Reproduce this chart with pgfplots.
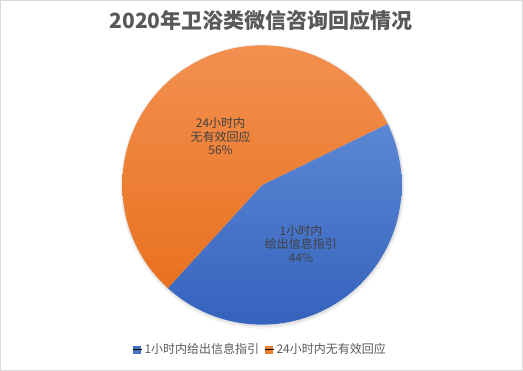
\documentclass[border=0pt]{standalone}
\usepackage{pgfplots}
\pgfplotsset{compat=1.18}
\usepackage{fontspec}
\setmainfont{Noto Sans CJK SC}
\definecolor{bluetop}{HTML}{5B87D4}
\definecolor{bluebot}{HTML}{3563BD}
\definecolor{orangetop}{HTML}{F39050}
\definecolor{orangebot}{HTML}{E8711F}
\definecolor{bluemain}{HTML}{4472C4}
\definecolor{orangemain}{HTML}{ED7D31}
\definecolor{bordergray}{HTML}{D9D9D9}
\definecolor{titlegray}{HTML}{595959}
\definecolor{labelgray}{HTML}{404040}
\begin{document}
\begin{tikzpicture}
\def\valA{44}
\def\valB{56}
\pgfmathsetmacro{\startang}{26}
\pgfmathsetmacro{\midang}{\startang-\valA*3.6}
\pgfmathsetmacro{\endang}{\startang+\valB*3.6}
\begin{axis}[
  scale only axis, width=522pt, height=370pt,
  xmin=0, xmax=523, ymin=0, ymax=371,
  ticks=none, clip=false,
  axis line style={draw=bordergray, line width=1pt},
  legend columns=2,
  legend style={at={(axis cs:260.5,21)}, anchor=center, draw=none, fill=none,
    font=\fontsize{12}{14}\selectfont, text=titlegray,
    /tikz/every even column/.append style={column sep=4pt},
    inner sep=0pt, cells={anchor=west}},
]
% shadow
\addplot[fill=black, fill opacity=0.05, draw=none, domain=0:360, samples=150, forget plot]
  ({262.5+142.5*cos(x)},{184.5+142.5*sin(x)});
\addplot[fill=black, fill opacity=0.07, draw=none, domain=0:360, samples=150, forget plot]
  ({262.5+141*cos(x)},{185+141*sin(x)});
% slices
\addplot[draw=none, top color=bluetop, bottom color=bluebot, domain=\midang:\startang, samples=120, forget plot]
  ({262+140*cos(x)},{186+140*sin(x)}) -- (262,186) -- cycle;
\addplot[draw=none, top color=orangetop, bottom color=orangebot, domain=\startang:\endang, samples=140, forget plot]
  ({262+140*cos(x)},{186+140*sin(x)}) -- (262,186) -- cycle;
% legend
\addlegendimage{legend image code/.code={\fill[bluemain] (0pt,-3.5pt) rectangle (7pt,3.5pt); \path (0pt,0pt) -- (9pt,0pt);}}
\addlegendentry{1小时内给出信息指引}
\addlegendimage{legend image code/.code={\fill[orangemain] (0pt,-3.5pt) rectangle (7pt,3.5pt); \path (0pt,0pt) -- (9pt,0pt);}}
\addlegendentry{24小时内无有效回应}
% labels
\node[font=\fontsize{21}{24}\selectfont\bfseries, text=titlegray] at (axis cs:261,351) {2020年卫浴类微信咨询回应情况};
\node[font=\fontsize{12}{13.5}\selectfont, text=labelgray, align=center] at (axis cs:220.5,235) {24小时内\\无有效回应\\\valB\%};
\node[font=\fontsize{12}{13.5}\selectfont, text=labelgray, align=center] at (axis cs:301,127) {1小时内\\给出信息指引\\\valA\%};
\end{axis}
\end{tikzpicture}
\end{document}
